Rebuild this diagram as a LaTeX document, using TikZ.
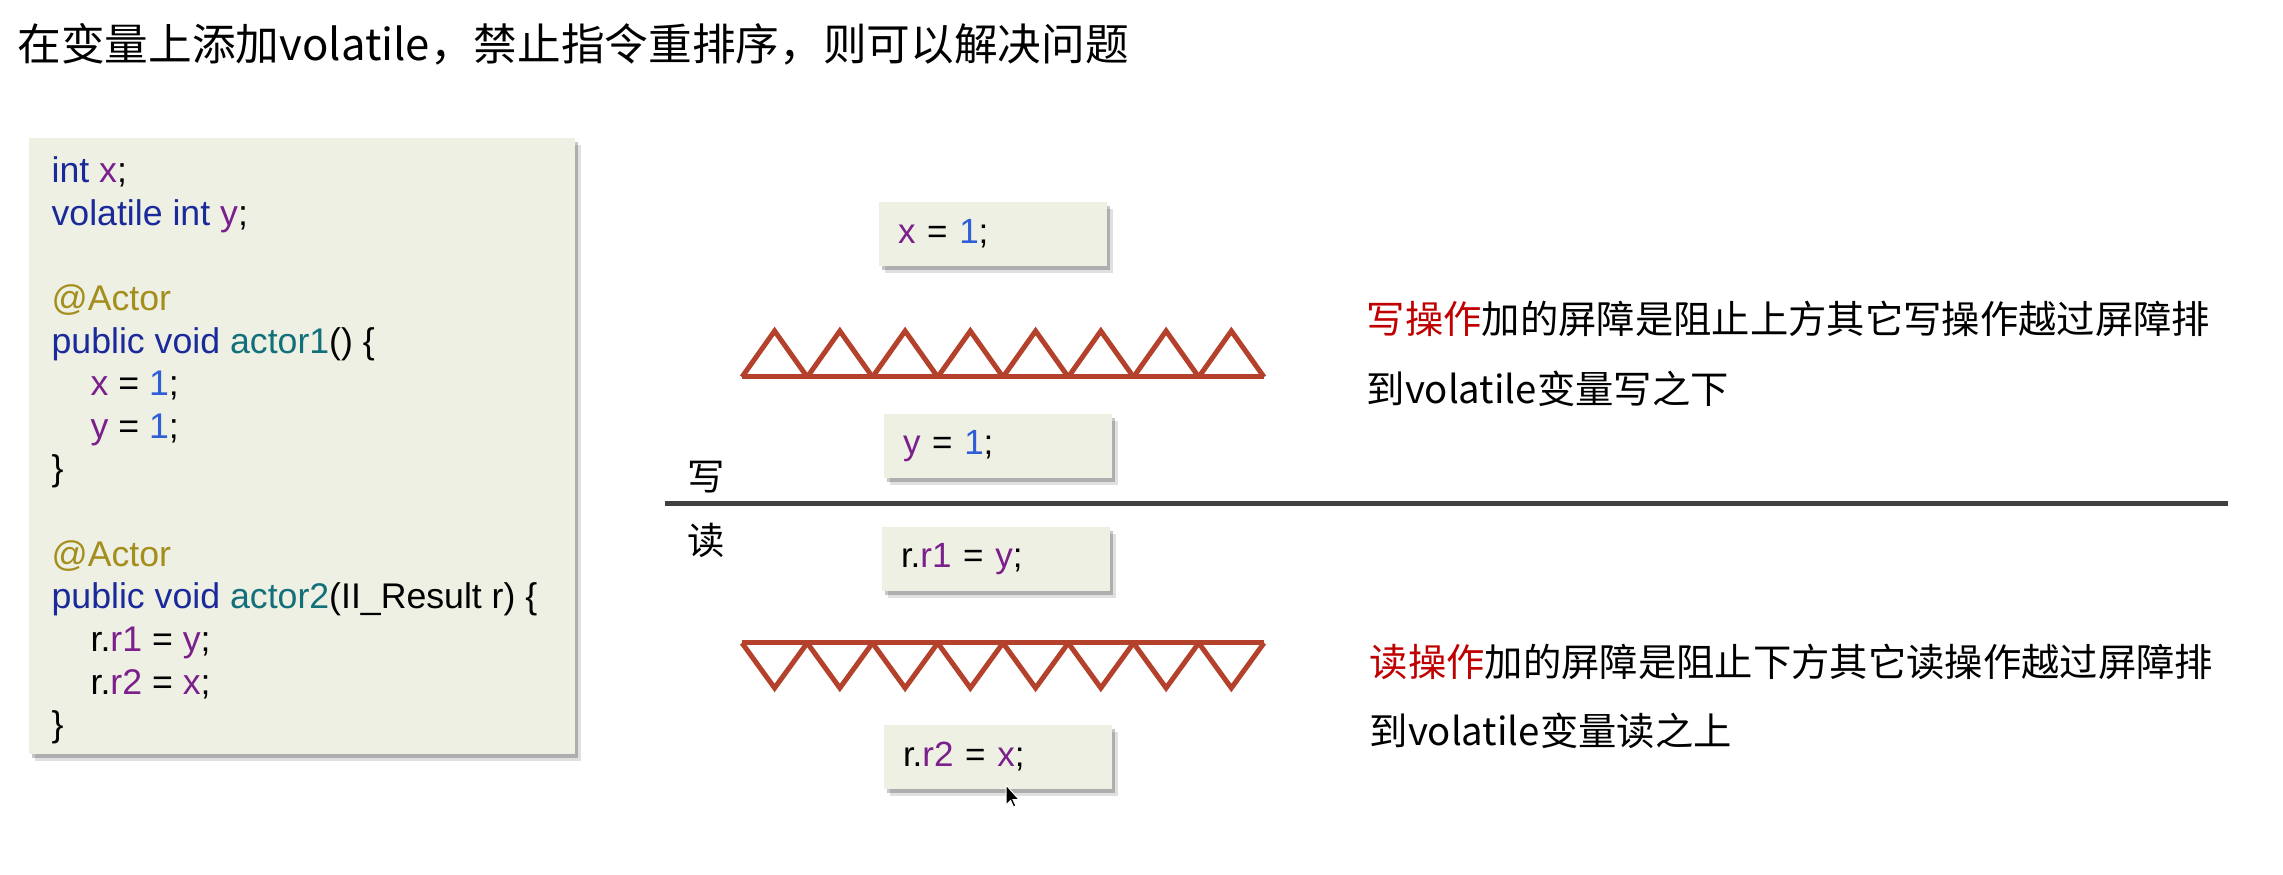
\documentclass[tikz,border=0pt]{standalone}
\usepackage{fontspec}
\setmainfont{Liberation Sans}
\newfontfamily\cjk{Noto Sans CJK SC}
\usetikzlibrary{shadows}
\definecolor{boxfill}{HTML}{EEF0E3}
\definecolor{barrier}{HTML}{B3412B}
\definecolor{divider}{HTML}{404040}
\definecolor{kwc}{HTML}{1A2A9A}
\definecolor{varc}{HTML}{7A1F8C}
\definecolor{annc}{HTML}{A48E1E}
\definecolor{methc}{HTML}{12707A}
\definecolor{numc}{HTML}{2F5ED8}
\definecolor{warnc}{HTML}{C00000}
\newcommand\ckw[1]{\textcolor{kwc}{#1}}
\newcommand\cvar[1]{\textcolor{varc}{#1}}
\newcommand\cann[1]{\textcolor{annc}{#1}}
\newcommand\cmeth[1]{\textcolor{methc}{#1}}
\newcommand\cnum[1]{\textcolor{numc}{#1}}
\tikzset{
  softshadow/.style={
    drop shadow={shadow xshift=0.9pt,shadow yshift=-1.2pt,fill=black,opacity=0.22},
    drop shadow={shadow xshift=1.8pt,shadow yshift=-2.2pt,fill=black,opacity=0.12}},
  codeline/.style={anchor=base west,inner sep=0pt,font=\fontsize{10.7pt}{12.8pt}\selectfont},
  stmtbox/.style={fill=boxfill,softshadow,minimum width=68.4pt,minimum height=19.2pt,
    text width=57pt,inner xsep=5.7pt,inner ysep=0pt,align=left,
    font=\fontsize{10.5pt}{12.6pt}\selectfont},
  cjktext/.style={anchor=base west,inner sep=0pt,font=\cjk\fontsize{11.5pt}{14pt}\selectfont},
  barrierline/.style={draw=barrier,line width=1.5pt,line join=miter,line cap=butt}
}
\begin{document}
\begin{tikzpicture}[x=0.3pt,y=-0.3pt]
\useasboundingbox[fill=white] (0,0) rectangle (2283,875);

% title
\node[anchor=base west,inner sep=0pt,font=\cjk\fontsize{13.1pt}{15pt}\selectfont] (title) at (17,61)
  {在变量上添加volatile，禁止指令重排序，则可以解决问题};

% code box
\path[fill=boxfill,softshadow] (29,138) rectangle (575,754);
\node[codeline] (c0)  at (51,182.8)  {\ckw{int} \cvar{x};};
\node[codeline] (c1)  at (51,225.4)  {\ckw{volatile int} \cvar{y};};
\node[codeline] (c3)  at (51,310.6)  {\cann{@Actor}};
\node[codeline] (c4)  at (51,353.2)  {\ckw{public void} \cmeth{actor1}() \{};
\node[codeline] (c5)  at (90,395.8)  {\cvar{x} = \cnum{1};};
\node[codeline] (c6)  at (90,438.4)  {\cvar{y} = \cnum{1};};
\node[codeline] (c7)  at (51,481.0)  {\}};
\node[codeline] (c9)  at (51,566.2)  {\cann{@Actor}};
\node[codeline] (c10) at (51,608.8)  {\ckw{public void} \cmeth{actor2}(II\_Result r) \{};
\node[codeline] (c11) at (90,651.4)  {r.\cvar{r1} = \cvar{y};};
\node[codeline] (c12) at (90,694.0)  {r.\cvar{r2} = \cvar{x};};
\node[codeline] (c13) at (51,736.6)  {\}};

% statement boxes
\node[stmtbox] (sx) at (993,234) {\cvar{x} = \cnum{1};};
\node[stmtbox] (sy) at (998,446) {\cvar{y} = \cnum{1};};
\node[stmtbox] (sr1) at (996,559) {r.\cvar{r1} = \cvar{y};};
\node[stmtbox] (sr2) at (998,757) {r.\cvar{r2} = \cvar{x};};

% write barrier (upward triangles)
\draw[barrierline] (742,377) -- (1264,377);
\foreach \i in {0,...,7}{
  \draw[barrierline] ({742+65.25*\i},377) -- ({742+65.25*\i+32.6},331) -- ({742+65.25*(\i+1)},377);
}
% read barrier (downward triangles)
\draw[barrierline] (742,643) -- (1264,643);
\foreach \i in {0,...,7}{
  \draw[barrierline] ({742+65.25*\i},643) -- ({742+65.25*\i+32.6},688) -- ({742+65.25*(\i+1)},643);
}

% divider
\draw[draw=divider,line width=1.5pt] (665,504) -- (2228,504);
\node[anchor=center,inner sep=0pt,font=\cjk\fontsize{11.2pt}{13pt}\selectfont] (wr) at (706,477) {写};
\node[anchor=center,inner sep=0pt,font=\cjk\fontsize{11.2pt}{13pt}\selectfont] (rd) at (706,540) {读};

% explanations
\node[cjktext] (w1) at (1366,334) {\textcolor{warnc}{写操作}加的屏障是阻止上方其它写操作越过屏障排};
\node[cjktext] (w2) at (1366,404) {到volatile变量写之下};
\node[cjktext] (r1) at (1369,676) {\textcolor{warnc}{读操作}加的屏障是阻止下方其它读操作越过屏障排};
\node[cjktext] (r2) at (1369,745) {到volatile变量读之上};

% mouse cursor
\path[fill=black,draw=white,line width=0.3pt] (1006,785) -- (1006,805) -- (1010.5,800.5) -- (1013.5,807) -- (1016,806) -- (1013,799.5) -- (1019,799.5) -- cycle;
\end{tikzpicture}
\end{document}
